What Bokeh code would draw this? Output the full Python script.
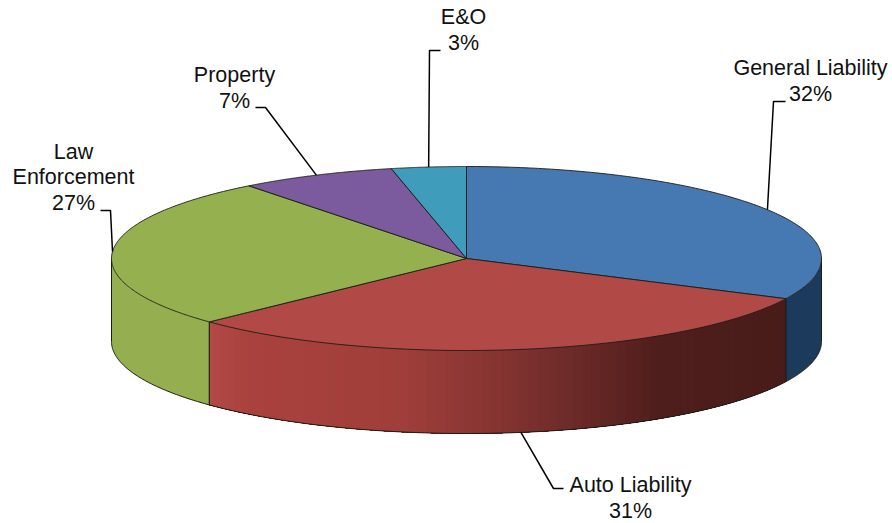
import numpy as np
from bokeh.plotting import figure
from bokeh.models import Range1d
from bokeh.core.properties import value
from bokeh.embed import file_html
from bokeh.resources import INLINE

# ---- data ----
categories = ["General Liability", "Auto Liability", "Law Enforcement", "Property", "E&O"]
shares = [32.2, 30.7, 26.6, 7.1, 3.4]
label_lines = [["General Liability"], ["Auto Liability"], ["Law", "Enforcement"], ["Property"], ["E&O"]]
top_colors = ["#4678b1", "#b14a46", "#95b04f", "#7b5a9e", "#3f9cba"]

# ---- layout ----
CX, CY, RX, RY, DEPTH = 466, 258, 355, 92, 83
FONT = "Liberation Sans"
FS = "21.5px"
LINE_H = 25.5
BASELINE_SHIFT = -8
# last-line baseline and centre of each label
label_pos = [(810, 101), (630, 518), (73, 210), (234, 108), (463, 50)]
# leader: text end, elbow (the third point comes from the slice's mid angle)
leader_elbows = [((785, 101), (773, 101)), ((563, 488), (553, 488)), ((100, 210), (110, 210)),
                 ((255, 107), (265, 107)), ((440, 50), (429, 50))]
side_base = ["#1c3a5c", None, "#94ae50", "#5a4278", "#2c7389"]
red_stops_x = [208, 240, 400, 480, 560, 660, 785]
red_stops_rgb = [(178, 74, 72), (170, 66, 62), (160, 62, 58), (138, 54, 51), (112, 44, 42), (78, 30, 28), (72, 28, 26)]


def rim(deg, drop=0):
    a = np.radians(deg)
    return CX + RX * np.sin(a), CY - RY * np.cos(a) + drop


def hexcol(rgb):
    return "#%02x%02x%02x" % tuple(int(round(c)) for c in rgb)


p = figure(width=892, height=523, output_backend="svg", toolbar_location=None,
           x_range=Range1d(0, 892), y_range=Range1d(523, 0), min_border=0)
p.axis.visible = False
p.grid.visible = False
p.outline_line_color = None
p.background_fill_color = "white"
p.border_fill_color = "white"

ends = np.cumsum(shares) / sum(shares) * 360
starts = np.concatenate([[0], ends[:-1]])
OUTLINE = "#1b1d14"


def side_polygon(lo, hi):
    arc = np.linspace(lo, hi, max(int(hi - lo) + 2, 2))
    x, y = rim(arc)
    return np.concatenate([x, x[::-1]]), np.concatenate([y, (y + DEPTH)[::-1]])


# sides of the cylinder: only the front half (90..270 deg) shows
for i, (s, e) in enumerate(zip(starts, ends)):
    lo, hi = max(s, 90), min(e, 270)
    if lo >= hi:
        continue
    if side_base[i] is None:
        # shaded: each patch reaches the far end and is painted over by the next
        for a0 in np.arange(lo, hi, 1.5):
            mx = rim(a0 + 0.75)[0]
            col = hexcol([np.interp(mx, red_stops_x, [c[k] for c in red_stops_rgb]) for k in range(3)])
            xs, ys = side_polygon(a0, hi)
            p.patch(xs, ys, fill_color=col, line_color=None)
    else:
        xs, ys = side_polygon(lo, hi)
        p.patch(xs, ys, fill_color=side_base[i], line_color=None)
    arc = np.linspace(lo, hi, 80)
    bx, by = rim(arc, DEPTH)
    p.line(bx, by, line_color=OUTLINE, line_width=1)
    for a in (lo, hi):
        x, y = rim(a)
        p.line([x, x], [y, y + DEPTH], line_color=OUTLINE, line_width=1)

# top surface slices
for i, (s, e) in enumerate(zip(starts, ends)):
    arc = np.linspace(s, e, 160)
    ax, ay = rim(arc)
    xs = np.concatenate([[CX], ax, [CX]])
    ys = np.concatenate([[CY], ay, [CY]])
    p.patch(xs, ys, fill_color=top_colors[i], line_color=OUTLINE, line_width=0.9)

# leaders
for i, (s, e) in enumerate(zip(starts, ends)):
    mid = (s + e) / 2
    ax, ay = rim(mid, DEPTH if 90 < mid < 270 else 0)
    (x0, y0), (x1, y1) = leader_elbows[i]
    p.line([x0, x1, ax], [y0, y1, ay], line_color="black", line_width=1.5)

# labels
for i, lines in enumerate(label_lines):
    lx, ly = label_pos[i]
    texts = lines + ["%d%%" % round(shares[i])]
    n = len(texts)
    for k, t in enumerate(texts):
        p.text([lx], [ly + BASELINE_SHIFT - (n - 1 - k) * LINE_H], text=[t], text_align="center",
               text_baseline="alphabetic", text_font=value(FONT), text_font_size=FS, text_color="#111111")

open("out.html", "w").write(file_html(p, INLINE))
